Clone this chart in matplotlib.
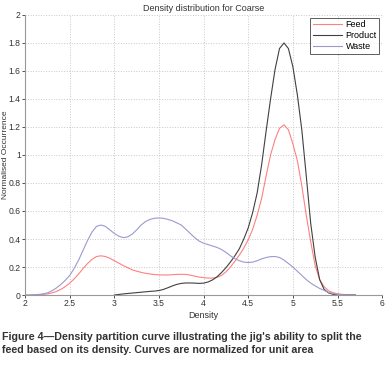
import numpy as np
from matplotlib import pyplot as plt

# density grid (step 0.05) and curve heights
density = np.round(np.arange(2.0, 5.7001, 0.05), 2)

feed = [0, 0, 0.001, 0.002, 0.004, 0.008, 0.015, 0.025, 0.04, 0.06,
        0.085, 0.115, 0.15, 0.19, 0.225, 0.255, 0.275, 0.28, 0.275, 0.262,
        0.245, 0.228, 0.21, 0.195, 0.18, 0.17, 0.162, 0.155, 0.15, 0.146,
        0.144, 0.143, 0.143, 0.145, 0.147, 0.148, 0.147, 0.142, 0.135, 0.128,
        0.124, 0.121, 0.121, 0.126, 0.14, 0.165, 0.2, 0.24, 0.285, 0.335,
        0.395, 0.47, 0.57, 0.69, 0.85, 1.0, 1.11, 1.19, 1.215, 1.18,
        1.08, 0.96, 0.78, 0.57, 0.38, 0.21, 0.11, 0.06, 0.03, 0.017,
        0.009, 0.005, 0.002, 0.001, 0]

product = [np.nan] * 20 + [
        0, 0.004, 0.008, 0.011, 0.014, 0.017, 0.02, 0.023, 0.026, 0.028,
        0.032, 0.04, 0.052, 0.065, 0.076, 0.083, 0.086, 0.086, 0.085, 0.083,
        0.085, 0.093, 0.108, 0.13, 0.16, 0.195, 0.235, 0.28, 0.33, 0.40,
        0.48, 0.59, 0.73, 0.93, 1.17, 1.40, 1.61, 1.76, 1.80, 1.76,
        1.63, 1.43, 1.18, 0.85, 0.51, 0.27, 0.11, 0.04, 0.015, 0.005,
        0.002, 0, 0, 0, 0]

waste = [0, 0, 0.002, 0.004, 0.008, 0.015, 0.03, 0.05, 0.075, 0.105,
         0.14, 0.19, 0.25, 0.32, 0.39, 0.45, 0.49, 0.50, 0.49, 0.465,
         0.44, 0.42, 0.41, 0.415, 0.435, 0.465, 0.50, 0.525, 0.54, 0.548,
         0.55, 0.548, 0.54, 0.53, 0.515, 0.50, 0.47, 0.44, 0.41, 0.385,
         0.37, 0.36, 0.35, 0.34, 0.325, 0.305, 0.28, 0.26, 0.245, 0.235,
         0.232, 0.235, 0.245, 0.258, 0.268, 0.274, 0.275, 0.268, 0.25, 0.225,
         0.20, 0.17, 0.14, 0.11, 0.085, 0.065, 0.047, 0.033, 0.018, 0.01,
         0.005, 0.002, 0.001, 0, 0]

plt.rcParams['font.family'] = ['Liberation Sans', 'DejaVu Sans']

fig = plt.figure(figsize=(3.86, 3.69), dpi=100)
ax = fig.add_axes([0.065, 0.2005, 0.925, 0.759])

ax.plot(density, feed, color='#ff8080', lw=0.8, label='Feed')
ax.plot(density, product, color='#404040', lw=0.8, label='Product')
ax.plot(density, waste, color='#9a9ad0', lw=0.8, label='Waste')

ax.set_xlim(2, 6)
ax.set_ylim(0, 2)
ax.set_xticks(np.arange(2, 6.01, 0.5))
ax.set_xticklabels(['2', '2.5', '3', '3.5', '4', '4.5', '5', '5.5', '6'])
ax.set_yticks(np.arange(0, 2.01, 0.2))
ax.set_yticklabels(['0', '0.2', '0.4', '0.6', '0.8', '1', '1.2', '1.4', '1.6', '1.8', '2'])
ax.grid(True, linestyle=':', color='#c8c8c8', lw=0.7)
ax.tick_params(labelsize=6.2, colors='#333333', length=2, width=0.6, pad=1.2)
for side in ['top', 'right']:
    ax.spines[side].set_visible(False)
for side in ['left', 'bottom']:
    ax.spines[side].set_color('#999999')
    ax.spines[side].set_linewidth(0.8)

ax.set_title('Density distribution for Coarse', fontsize=6.5, color='#333333', pad=3)
ax.set_xlabel('Density', fontsize=6.5, color='#333333', labelpad=2)
ax.set_ylabel('Normalised Occurrence', fontsize=6.0, color='#333333')
ax.yaxis.set_label_coords(-0.044, 0.5)

leg = ax.legend(loc='upper right', fontsize=6.5, frameon=True, fancybox=False,
                borderpad=0.3, handlelength=3.2, handletextpad=0.4,
                labelspacing=0.2, borderaxespad=0.3)
leg.get_frame().set_edgecolor('#333333')
leg.get_frame().set_linewidth(0.7)

fig.text(0.005, 0.07, "Figure 4\u2014Density partition curve illustrating the jig's ability to split the\n"
         "feed based on its density. Curves are normalized for unit area",
         fontsize=7.7, fontweight='bold', color='#333333', va='center', ha='left',
         linespacing=1.35)

plt.savefig('out.png', dpi=100)
